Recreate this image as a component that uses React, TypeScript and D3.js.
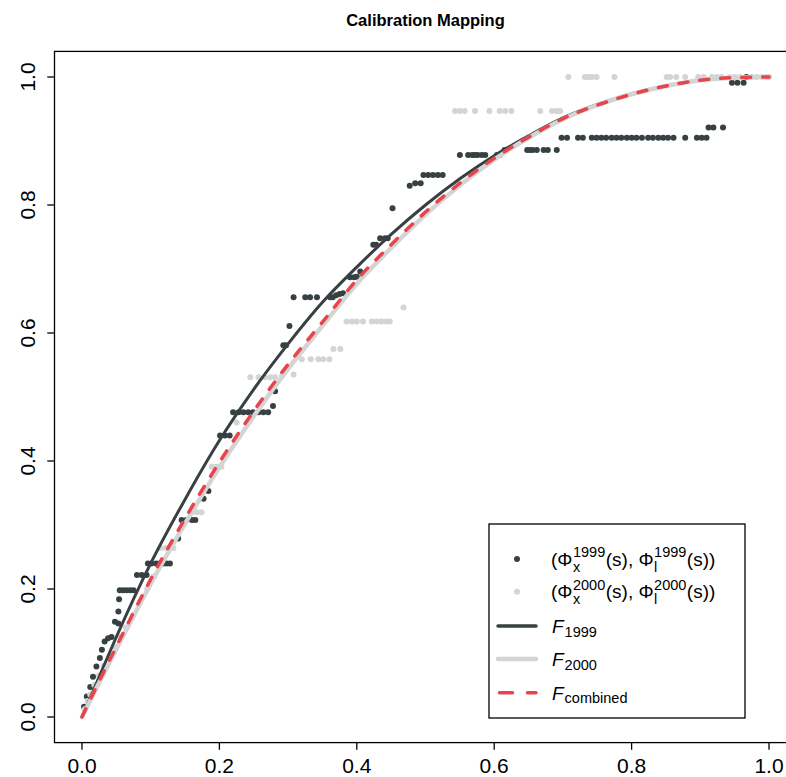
import React from "react";
import * as d3 from "d3";

// ---------- data ----------
const xTicks = [0, 0.2, 0.4, 0.6, 0.8, 1.0];
const yTicks = [0, 0.2, 0.4, 0.6, 0.8, 1.0];

// Observed mapping points, year 1999 [Phi_x, Phi_l]
const points1999: [number, number][] = [
  [0.003, 0.016], [0.007, 0.032], [0.012, 0.047], [0.016, 0.063], [0.021, 0.079],
  [0.026, 0.092], [0.029, 0.105], [0.033, 0.118], [0.038, 0.123], [0.043, 0.125],
  [0.048, 0.149], [0.053, 0.146], [0.053, 0.165], [0.054, 0.184],
  [0.055, 0.198], [0.060, 0.198], [0.065, 0.198], [0.070, 0.198], [0.075, 0.198],
  [0.080, 0.222], [0.087, 0.222], [0.094, 0.222],
  [0.096, 0.24], [0.101, 0.24], [0.108, 0.24], [0.113, 0.24], [0.118, 0.24], [0.123, 0.24], [0.128, 0.24],
  [0.140, 0.279],
  [0.145, 0.308], [0.152, 0.308], [0.160, 0.308], [0.165, 0.308],
  [0.177, 0.341], [0.184, 0.353],
  [0.201, 0.44], [0.208, 0.44], [0.215, 0.44],
  [0.220, 0.476], [0.228, 0.476], [0.235, 0.476], [0.242, 0.476], [0.249, 0.476],
  [0.257, 0.476], [0.264, 0.476], [0.271, 0.476],
  [0.278, 0.486], [0.281, 0.509],
  [0.293, 0.581], [0.297, 0.581], [0.302, 0.611],
  [0.308, 0.656], [0.325, 0.656], [0.332, 0.656], [0.342, 0.656], [0.361, 0.656], [0.365, 0.656],
  [0.370, 0.659], [0.375, 0.661], [0.380, 0.662],
  [0.390, 0.687], [0.396, 0.687], [0.400, 0.688], [0.405, 0.696],
  [0.424, 0.738], [0.428, 0.738], [0.434, 0.748], [0.441, 0.748], [0.445, 0.748],
  [0.452, 0.795],
  [0.477, 0.83], [0.485, 0.834], [0.493, 0.834],
  [0.497, 0.847], [0.504, 0.847], [0.511, 0.847], [0.518, 0.847], [0.525, 0.847],
  [0.550, 0.878], [0.562, 0.878], [0.568, 0.878], [0.572, 0.878], [0.576, 0.878],
  [0.582, 0.878], [0.587, 0.878], [0.604, 0.878], [0.608, 0.878],
  [0.615, 0.886],
  [0.648, 0.886], [0.652, 0.886], [0.656, 0.886], [0.662, 0.886], [0.672, 0.886], [0.678, 0.886], [0.691, 0.886],
  [0.698, 0.905], [0.706, 0.905], [0.722, 0.905], [0.729, 0.905], [0.742, 0.905], [0.749, 0.905],
  [0.756, 0.905], [0.763, 0.905], [0.771, 0.905], [0.778, 0.905], [0.785, 0.905], [0.793, 0.905],
  [0.800, 0.905], [0.807, 0.905], [0.815, 0.905], [0.824, 0.905], [0.831, 0.905], [0.839, 0.905],
  [0.846, 0.905], [0.853, 0.905], [0.861, 0.905], [0.878, 0.905], [0.895, 0.905], [0.902, 0.905], [0.909, 0.905],
  [0.912, 0.921], [0.919, 0.921], [0.933, 0.921],
  [0.946, 0.991], [0.954, 0.991], [0.963, 0.991],
  [0.967, 1.0],
];

// Observed mapping points, year 2000
const points2000: [number, number][] = [
  [0.004, 0.012], [0.008, 0.025], [0.012, 0.035], [0.018, 0.05], [0.025, 0.065],
  [0.032, 0.08], [0.040, 0.095], [0.048, 0.11], [0.056, 0.125], [0.064, 0.14],
  [0.075, 0.16], [0.085, 0.18], [0.095, 0.2], [0.105, 0.22],
  [0.114, 0.264], [0.122, 0.264], [0.133, 0.264],
  [0.160, 0.32], [0.167, 0.32], [0.174, 0.32],
  [0.189, 0.391], [0.196, 0.391], [0.203, 0.391],
  [0.225, 0.46],
  [0.245, 0.531], [0.257, 0.531], [0.266, 0.531], [0.274, 0.531], [0.281, 0.531], [0.291, 0.533],
  [0.308, 0.535],
  [0.320, 0.559], [0.333, 0.559], [0.344, 0.559], [0.351, 0.559], [0.360, 0.559],
  [0.366, 0.575], [0.376, 0.575],
  [0.385, 0.618], [0.393, 0.618], [0.400, 0.618], [0.409, 0.618], [0.422, 0.618],
  [0.429, 0.618], [0.436, 0.618], [0.443, 0.618], [0.448, 0.618],
  [0.468, 0.64],
  [0.543, 0.947], [0.550, 0.947], [0.557, 0.947], [0.572, 0.947], [0.593, 0.947], [0.608, 0.947],
  [0.616, 0.947], [0.625, 0.947], [0.667, 0.947], [0.684, 0.947], [0.691, 0.947], [0.696, 0.947],
  [0.708, 1.0], [0.732, 1.0], [0.737, 1.0], [0.742, 1.0], [0.749, 1.0], [0.775, 1.0],
  [0.851, 1.0], [0.856, 1.0], [0.865, 1.0], [0.878, 1.0], [0.897, 1.0], [0.905, 1.0],
  [0.917, 1.0], [0.924, 1.0], [0.931, 1.0], [0.943, 1.0], [0.950, 1.0], [0.958, 1.0],
  [0.975, 1.0], [0.982, 1.0], [0.990, 1.0], [0.997, 1.0], [1.0, 1.0],
];

// Fitted mapping curves (sampled)
const curveX = [0, 0.02, 0.05, 0.1, 0.15, 0.2, 0.25, 0.3, 0.35, 0.4, 0.45, 0.5, 0.55, 0.6, 0.65, 0.7, 0.75, 0.8, 0.85, 0.9, 0.95, 1.0];
const f1999 = [0, 0.05, 0.125, 0.24, 0.34, 0.432, 0.512, 0.583, 0.648, 0.703, 0.754, 0.8, 0.841, 0.877, 0.908, 0.936, 0.957, 0.974, 0.986, 0.995, 0.999, 1.0];
const f2000 = [0, 0.043, 0.106, 0.208, 0.302, 0.39, 0.47, 0.544, 0.611, 0.677, 0.733, 0.785, 0.831, 0.871, 0.905, 0.934, 0.956, 0.973, 0.986, 0.995, 0.999, 1.0];
const fCombined = [0, 0.045, 0.11, 0.215, 0.31, 0.398, 0.478, 0.551, 0.617, 0.683, 0.738, 0.789, 0.834, 0.873, 0.906, 0.935, 0.956, 0.973, 0.986, 0.995, 0.999, 1.0];

// ---------- style ----------
const W = 786, H = 777;
const DARK = "#374042";
const LIGHT = "#d4d4d4";
const RED = "#e8444c";
const FONT = "'Liberation Sans', Arial, Helvetica, sans-serif";
const MAIN = 19, SMALL = 14.5;

const measureCtx = (() => {
  if (typeof document === "undefined") return null;
  const c = document.createElement("canvas");
  return c.getContext("2d");
})();
function tw(text: string, size: number, style = "normal") {
  if (!measureCtx) return text.length * size * 0.55;
  measureCtx.font = `${style} ${size}px ${FONT}`;
  return measureCtx.measureText(text).width;
}

function PhiLabel({ x, y, year }: { x: number; y: number; year: string }) {
  const parts: React.ReactNode[] = [];
  let cx = x;
  const add = (t: string) => {
    parts.push(<text key={parts.length} x={cx} y={y} fontSize={MAIN}>{t}</text>);
    cx += tw(t, MAIN);
  };
  const supsub = (sub: string) => {
    parts.push(<text key={parts.length} x={cx + 0.5} y={y - 8.5} fontSize={SMALL}>{year}</text>);
    parts.push(<text key={parts.length} x={cx + 0.5} y={y + 6} fontSize={SMALL}>{sub}</text>);
    cx += Math.max(tw(year, SMALL), tw(sub, SMALL)) + 1;
  };
  add("(Φ");
  supsub("x");
  add("(s), Φ");
  supsub("l");
  add("(s))");
  return <g>{parts}</g>;
}

function FLabel({ x, y, sub }: { x: number; y: number; sub: string }) {
  const fw = tw("F", MAIN, "italic");
  return (
    <g>
      <text x={x} y={y} fontSize={MAIN} fontStyle="italic">F</text>
      <text x={x + fw + 1} y={y + 3.5} fontSize={SMALL}>{sub}</text>
    </g>
  );
}

export default function App() {
  const x = d3.scaleLinear().domain([-0.04, 1.04]).range([54.5, 796.5]);
  const y = d3.scaleLinear().domain([-0.04, 1.04]).range([742.6, 51.4]);
  const line = (vals: number[]) =>
    d3.line<number>().x((_, i) => x(curveX[i])).y((v) => y(v)).curve(d3.curveMonotoneX)(vals) || "";

  const [pl, pt, pr, pb] = [54.5, 51.4, 796.5, 742.6];

  // legend geometry
  const lx = 489, ly = 524, lw = 256, lh = 194;
  const rowY = [559, 591.7, 626, 659, 692.7];
  const symX0 = 498, symX1 = 536, symMid = 517, textX = 551;

  return (
    <svg width={W} height={H} style={{ position: "absolute", left: 0, top: 0, background: "#fff" }} fontFamily={FONT}>
      <rect x={0} y={0} width={W} height={H} fill="#fff" />
      <text x={(pl + pr) / 2} y={26} textAnchor="middle" fontSize={16.5} fontWeight="bold">Calibration Mapping</text>

      {/* points */}
      <g fill={DARK}>
        {points1999.map((p, i) => <circle key={i} cx={x(p[0])} cy={y(p[1])} r={3} />)}
      </g>
      <g fill={LIGHT}>
        {points2000.map((p, i) => <circle key={i} cx={x(p[0])} cy={y(p[1])} r={3} />)}
      </g>

      {/* curves */}
      <path d={line(f1999)} fill="none" stroke={DARK} strokeWidth={3} strokeLinecap="round" />
      <path d={line(f2000)} fill="none" stroke={LIGHT} strokeWidth={4.5} strokeLinecap="round" />
      <path d={line(fCombined)} fill="none" stroke={RED} strokeWidth={3.5} strokeLinecap="round" strokeDasharray="9,12" />

      {/* frame */}
      <rect x={pl} y={pt} width={pr - pl} height={pb - pt} fill="none" stroke="#000" strokeWidth={1.3} />

      {/* x axis */}
      {xTicks.map((t) => (
        <g key={"x" + t}>
          <line x1={x(t)} x2={x(t)} y1={pb} y2={pb + 7.2} stroke="#000" strokeWidth={1.3} />
          <text x={x(t)} y={773} textAnchor="middle" fontSize={21}>{d3.format(".1f")(t)}</text>
        </g>
      ))}
      {/* y axis */}
      {yTicks.map((t) => (
        <g key={"y" + t}>
          <line x1={pl} x2={pl - 7.2} y1={y(t)} y2={y(t)} stroke="#000" strokeWidth={1.3} />
          <text transform={`translate(34.5,${y(t)}) rotate(-90)`} textAnchor="middle" fontSize={21}>{d3.format(".1f")(t)}</text>
        </g>
      ))}

      {/* legend */}
      <rect x={lx} y={ly} width={lw} height={lh} fill="#fff" stroke="#000" strokeWidth={1.3} />
      <circle cx={symMid} cy={rowY[0]} r={3} fill={DARK} />
      <circle cx={symMid} cy={rowY[1]} r={3} fill={LIGHT} />
      <line x1={symX0} x2={symX1} y1={rowY[2]} y2={rowY[2]} stroke={DARK} strokeWidth={3.5} strokeLinecap="round" />
      <line x1={symX0} x2={symX1} y1={rowY[3]} y2={rowY[3]} stroke={LIGHT} strokeWidth={4.5} strokeLinecap="round" />
      <line x1={symX0 + 1.5} x2={symX1} y1={rowY[4]} y2={rowY[4]} stroke={RED} strokeWidth={3.5} strokeLinecap="round" strokeDasharray="13,15" />
      <PhiLabel x={textX} y={rowY[0] + 6.5} year="1999" />
      <PhiLabel x={textX} y={rowY[1] + 6.5} year="2000" />
      <FLabel x={textX + 1} y={rowY[2] + 7} sub="1999" />
      <FLabel x={textX + 1} y={rowY[3] + 7} sub="2000" />
      <FLabel x={textX + 1} y={rowY[4] + 7} sub="combined" />
    </svg>
  );
}
